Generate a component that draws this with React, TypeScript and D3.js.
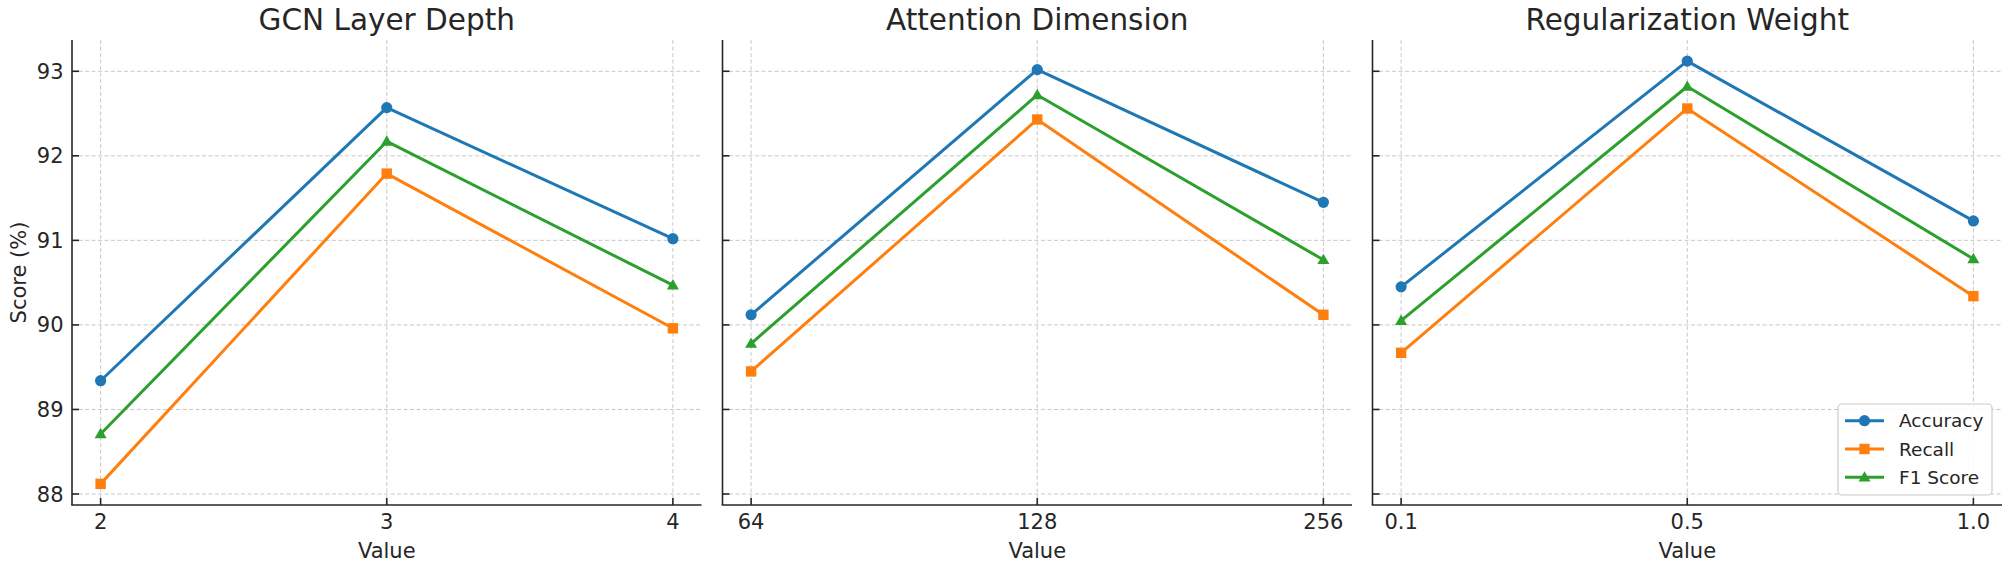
import React from 'react';
import * as d3 from 'd3';

const seriesNames = ['Accuracy', 'Recall', 'F1 Score'];
const seriesColors = ['#1f77b4', '#ff7f0e', '#2ca02c'];
const panelTitles = ['GCN Layer Depth', 'Attention Dimension', 'Regularization Weight'];
const gcnTicks = ['2', '3', '4'];
const attnTicks = ['64', '128', '256'];
const regTicks = ['0.1', '0.5', '1.0'];
const gcnAccuracy = [89.34, 92.57, 91.02];
const gcnRecall = [88.12, 91.79, 89.96];
const gcnF1 = [88.71, 92.17, 90.47];
const attnAccuracy = [90.12, 93.02, 91.45];
const attnRecall = [89.45, 92.43, 90.12];
const attnF1 = [89.78, 92.72, 90.77];
const regAccuracy = [90.45, 93.12, 91.23];
const regRecall = [89.67, 92.56, 90.34];
const regF1 = [90.05, 92.82, 90.78];
const yTickValues = [88, 89, 90, 91, 92, 93];

const W = 2008;
const H = 565;
const FONT = '"DejaVu Sans", Verdana, sans-serif';
const TEXT = '#262626';

const panels = [
  { title: panelTitles[0], ticks: gcnTicks, data: [gcnAccuracy, gcnRecall, gcnF1] },
  { title: panelTitles[1], ticks: attnTicks, data: [attnAccuracy, attnRecall, attnF1] },
  { title: panelTitles[2], ticks: regTicks, data: [regAccuracy, regRecall, regF1] },
];

const panelLefts = [72, 722.5, 1372.5];
const panelWidth = 629.5;
const top = 40;
const bottom = 505;

function Marker({ kind, x, y, color }: { kind: number; x: number; y: number; color: string }) {
  if (kind === 0) return <circle cx={x} cy={y} r={5.6} fill={color} />;
  if (kind === 1) return <rect x={x - 5.2} y={y - 5.2} width={10.4} height={10.4} fill={color} />;
  const sym = d3.symbol().type(d3.symbolTriangle).size(62)();
  return <path d={sym || ''} transform={`translate(${x},${y + 0.8})`} fill={color} />;
}

export default function App() {
  const all = panels.flatMap((p) => p.data.flat());
  const mn = d3.min(all) as number;
  const mx = d3.max(all) as number;
  const pad = (mx - mn) * 0.05;
  const y = d3.scaleLinear().domain([mn - pad, mx + pad]).range([bottom, top]);

  return (
    <svg
      width={W}
      height={H}
      style={{ position: 'absolute', left: 0, top: 0, background: '#fff' }}
      fontFamily={FONT}
    >
      <rect x={0} y={0} width={W} height={H} fill="#fff" />
      {panels.map((p, pi) => {
        const left = panelLefts[pi];
        const right = left + panelWidth;
        const x = d3.scalePoint<string>().domain(p.ticks).range([left, right]).padding(0.1);
        const line = d3
          .line<number>()
          .x((_, i) => x(p.ticks[i]) as number)
          .y((d) => y(d));
        const cx = (left + right) / 2;
        return (
          <g key={pi}>
            {/* grid */}
            {yTickValues.map((t) => (
              <line
                key={'gy' + t}
                x1={left}
                x2={right}
                y1={y(t)}
                y2={y(t)}
                stroke="#b0b0b0"
                strokeOpacity={0.7}
                strokeWidth={1}
                strokeDasharray="4,2.5"
              />
            ))}
            {p.ticks.map((t) => (
              <line
                key={'gx' + t}
                x1={x(t)}
                x2={x(t)}
                y1={top}
                y2={bottom}
                stroke="#b0b0b0"
                strokeOpacity={0.7}
                strokeWidth={1}
                strokeDasharray="4,2.5"
              />
            ))}
            {/* series */}
            {p.data.map((vals, si) => (
              <g key={'s' + si}>
                <path d={line(vals) || ''} fill="none" stroke={seriesColors[si]} strokeWidth={3} strokeLinejoin="round" />
                {vals.map((v, i) => (
                  <Marker key={i} kind={si} x={x(p.ticks[i]) as number} y={y(v)} color={seriesColors[si]} />
                ))}
              </g>
            ))}
            {/* spines */}
            <line x1={left} x2={left} y1={top} y2={bottom} stroke={TEXT} strokeWidth={1.6} />
            <line x1={left - 0.8} x2={right} y1={bottom} y2={bottom} stroke={TEXT} strokeWidth={1.6} />
            {/* y ticks (inward) */}
            {yTickValues.map((t) => (
              <line key={'yt' + t} x1={left} x2={left + 7} y1={y(t)} y2={y(t)} stroke={TEXT} strokeWidth={1.6} />
            ))}
            {pi === 0 &&
              yTickValues.map((t) => (
                <text key={'yl' + t} x={left - 8.5} y={y(t)} dy="0.36em" textAnchor="end" fontSize={21} fill={TEXT}>
                  {t}
                </text>
              ))}
            {/* x ticks (inward) */}
            {p.ticks.map((t) => (
              <g key={'xt' + t}>
                <line x1={x(t)} x2={x(t)} y1={bottom} y2={bottom - 7} stroke={TEXT} strokeWidth={1.6} />
                <text x={x(t)} y={529} textAnchor="middle" fontSize={21} fill={TEXT}>
                  {t}
                </text>
              </g>
            ))}
            <text x={cx} y={558} textAnchor="middle" fontSize={21} fill={TEXT}>
              Value
            </text>
            <text x={cx} y={29.5} textAnchor="middle" fontSize={29.5} fill={TEXT}>
              {p.title}
            </text>
            {pi === 0 && (
              <text
                transform={`translate(${18},${(top + bottom) / 2}) rotate(-90)`}
                textAnchor="middle"
                dy="0.36em"
                fontSize={21}
                fill={TEXT}
              >
                Score (%)
              </text>
            )}
            {pi === 2 && (
              <g>
                <rect
                  x={right - 10 - 154}
                  y={bottom - 10 - 91}
                  width={154}
                  height={91}
                  rx={4}
                  fill="#fff"
                  fillOpacity={0.85}
                  stroke="#cccccc"
                  strokeWidth={1.2}
                />
                {seriesNames.map((n, si) => {
                  const ly = bottom - 10 - 91 + 16.7 + si * 28.3;
                  const lx0 = right - 10 - 154 + 7;
                  return (
                    <g key={n}>
                      <line x1={lx0} x2={lx0 + 39} y1={ly} y2={ly} stroke={seriesColors[si]} strokeWidth={3} />
                      <Marker kind={si} x={lx0 + 19.5} y={ly} color={seriesColors[si]} />
                      <text x={lx0 + 54} y={ly} dy="0.36em" fontSize={18.5} fill={TEXT}>
                        {n}
                      </text>
                    </g>
                  );
                })}
              </g>
            )}
          </g>
        );
      })}
    </svg>
  );
}
